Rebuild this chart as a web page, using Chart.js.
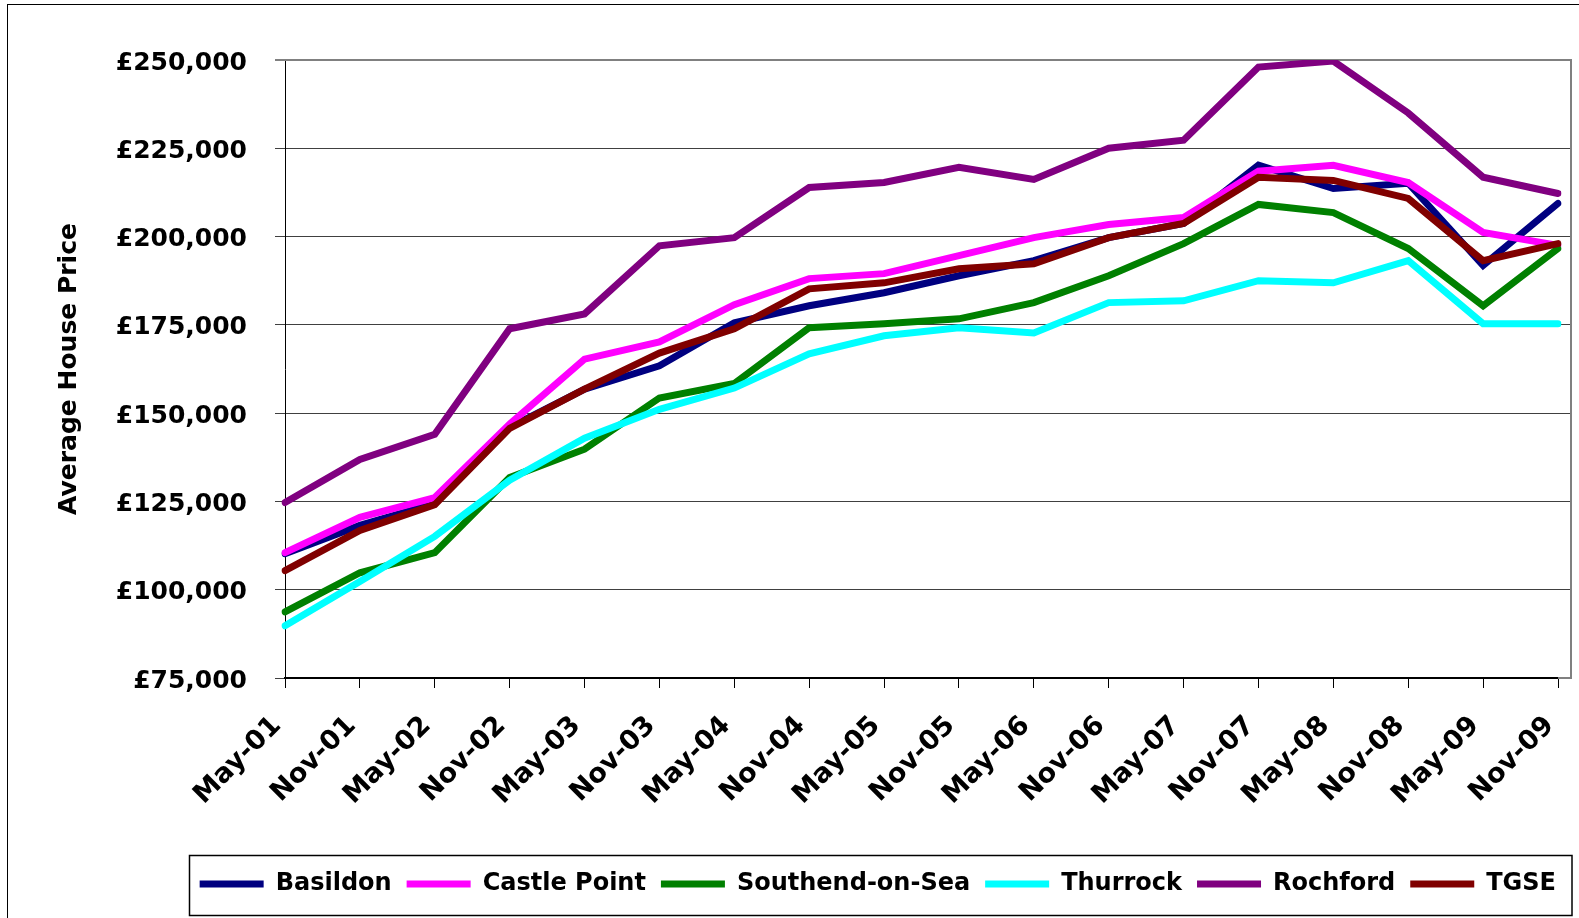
<!DOCTYPE html>
<html lang="en">
<head>
<meta charset="UTF-8" />
<title>Average House Price</title>
<script src="https://cdn.jsdelivr.net/npm/chart.js"></script>
<style>
  html, body { margin: 0; padding: 0; background: #fff; }
  #wrap { position: relative; width: 1579px; height: 918px; }
</style>
</head>
<body>
<div id="wrap"><canvas id="priceChart"></canvas></div>

<script>
  const months = ['May-01', 'Nov-01', 'May-02', 'Nov-02', 'May-03', 'Nov-03', 'May-04', 'Nov-04', 'May-05',
                  'Nov-05', 'May-06', 'Nov-06', 'May-07', 'Nov-07', 'May-08', 'Nov-08', 'May-09', 'Nov-09'];

  const basildon     = [110200, 118200, 124400, 146000, 156800, 163400, 175600, 180400, 184100,
                        188900, 193200, 199700, 203700, 220200, 213600, 215100, 191800, 209400];
  const castlePoint  = [110500, 120500, 126100, 146900, 165300, 170200, 180700, 188100, 189500,
                        194600, 199700, 203400, 205400, 218500, 220200, 215300, 201200, 197500];
  const southend     = [93750, 104800, 110500, 131800, 139800, 154300, 158400, 174200, 175300,
                        176700, 181300, 188900, 198000, 209100, 206800, 196600, 180400, 196600];
  const thurrock     = [89800, 102300, 115100, 131000, 142900, 151100, 157100, 166800, 171900,
                        174200, 172700, 181300, 181800, 187500, 186900, 193200, 175300, 175300];
  const rochford     = [124700, 136900, 144000, 173900, 178100, 197400, 199700, 213900, 215300,
                        219600, 216200, 225000, 227300, 248000, 249700, 235000, 216800, 212200];
  const tgse         = [105400, 116800, 124100, 145700, 156800, 167000, 173900, 185200, 186900,
                        190900, 192300, 199700, 203700, 216800, 215900, 210800, 193200, 198000];

  const priceTicks = [75000, 100000, 125000, 150000, 175000, 200000, 225000, 250000];

  const FONT = "'DejaVu Sans', sans-serif";
  const PAD_BOTTOM = 12;
  const PLOT_BOTTOM = 678;

  // series in draw order: later entries sit on top of earlier ones
  const series = [
    { label: 'Basildon',        data: basildon,    color: '#000080' },
    { label: 'Castle Point',    data: castlePoint, color: '#FF00FF' },
    { label: 'Southend-on-Sea', data: southend,    color: '#008000' },
    { label: 'Thurrock',        data: thurrock,    color: '#00FFFF' },
    { label: 'Rochford',        data: rochford,    color: '#800080' },
    { label: 'TGSE',            data: tgse,        color: '#800000' }
  ];

  // plot frame runs a little past the last category
  const frameExtra = 13;

  const framePlugin = {
    id: 'frames',
    beforeDraw(chart) {
      const ctx = chart.ctx;
      ctx.save();
      ctx.fillStyle = '#fff';
      ctx.fillRect(0, 0, chart.width, chart.height);
      ctx.strokeStyle = '#000';
      ctx.lineWidth = 1;
      ctx.strokeRect(7.5, 4.5, chart.width + 20, chart.height + 20);
      ctx.restore();
    },
    beforeDatasetsDraw(chart) {
      const { ctx, chartArea: a, scales: { y } } = chart;
      const right = a.right + frameExtra;
      ctx.save();
      ctx.strokeStyle = '#404040';
      ctx.lineWidth = 1;
      priceTicks.slice(1, -1).forEach(v => {
        // same pixel snapping as the library's own grid lines
        const py = Math.round(y.getPixelForValue(v) - 0.5) + 0.5;
        ctx.beginPath();
        ctx.moveTo(a.right - 1, py);
        ctx.lineTo(right, py);
        ctx.stroke();
      });
      ctx.strokeStyle = '#808080';
      ctx.lineWidth = 2;
      ctx.beginPath();
      ctx.moveTo(a.left, a.top);
      ctx.lineTo(right, a.top);
      ctx.lineTo(right, a.bottom);
      ctx.lineTo(a.right, a.bottom);
      ctx.stroke();
      ctx.restore();
    },
    afterDraw(chart) {
      const boxes = chart.legend && chart.legend.legendHitBoxes;
      if (!boxes || !boxes.length) return;
      const ctx = chart.ctx;
      const first = boxes[0];
      const cy = first.top + first.height / 2;
      const left = Math.round(first.left) - 10.5;
      ctx.save();
      ctx.strokeStyle = '#000';
      ctx.lineWidth = 1.5;
      ctx.strokeRect(left, Math.round(cy) - 28.5, chart.width - 7 - left, 60);
      ctx.restore();
    }
  };

  new Chart(document.getElementById('priceChart'), {
    type: 'line',
    data: {
      labels: months,
      datasets: series.map((s, i) => ({
        label: s.label,
        data: s.data,
        borderColor: s.color,
        backgroundColor: s.color,
        borderWidth: 7,
        borderCapStyle: 'round',
        pointRadius: 0,
        pointHoverRadius: 0,
        tension: 0,
        order: series.length - i
      }))
    },
    options: {
      responsive: true,
      maintainAspectRatio: false,
      animation: false,
      layout: { padding: { left: 20, right: 8, top: 60, bottom: PAD_BOTTOM } },
      plugins: {
        tooltip: { enabled: false },
        legend: {
          position: 'bottom',
          align: 'end',
          labels: {
            usePointStyle: true,
            pointStyle: 'line',
            pointStyleWidth: 64,
            padding: 15,
            color: '#000',
            font: { family: FONT, size: 24, weight: 'bold' },
            sort: (a, b) => a.datasetIndex - b.datasetIndex
          }
        }
      },
      scales: {
        x: {
          afterFit(scale) {
            const lg = scale.chart.legend;
            if (lg && lg.height) scale.height = scale.chart.height - PAD_BOTTOM - lg.height - PLOT_BOTTOM;
            // rotated labels hang left of their ticks, nothing sticks out on the right
            scale.paddingRight = 0;
          },
          grid: { drawOnChartArea: false, drawTicks: true, tickLength: 10, color: '#000', lineWidth: 1 },
          border: { color: '#000', width: 2 },
          ticks: {
            autoSkip: false,
            maxRotation: 45,
            minRotation: 45,
            padding: 22,
            labelOffset: -8,
            color: '#000',
            font: { family: FONT, size: 27, weight: 'bold' }
          }
        },
        y: {
          min: priceTicks[0],
          max: priceTicks[priceTicks.length - 1],
          afterBuildTicks(scale) {
            scale.ticks = priceTicks.map(v => ({ value: v }));
          },
          afterFit(scale) {
            scale.width = 265;
          },
          grid: {
            color: c => (c.tick && c.tick.value === 250000 ? '#808080' : '#404040'),
            lineWidth: c => (c.tick && c.tick.value === 250000 ? 2 : 1),
            tickLength: 10
          },
          border: { color: '#000', width: 1 },
          ticks: {
            padding: 28,
            labelOffset: 3,
            color: '#000',
            font: { family: FONT, size: 25, weight: 'bold' },
            callback: v => '£' + Number(v).toLocaleString('en-GB')
          },
          title: {
            display: true,
            text: 'Average House Price',
            color: '#000',
            font: { family: FONT, size: 25, weight: 'bold' },
            padding: { top: 34, bottom: 0 }
          }
        },
        // empty strip between the last category and the plot frame
        yRight: {
          position: 'right',
          grid: { display: false },
          ticks: { display: false },
          border: { display: false },
          afterFit(scale) {
            scale.width = frameExtra;
          }
        }
      }
    },
    plugins: [framePlugin]
  });
</script>
</body>
</html>
